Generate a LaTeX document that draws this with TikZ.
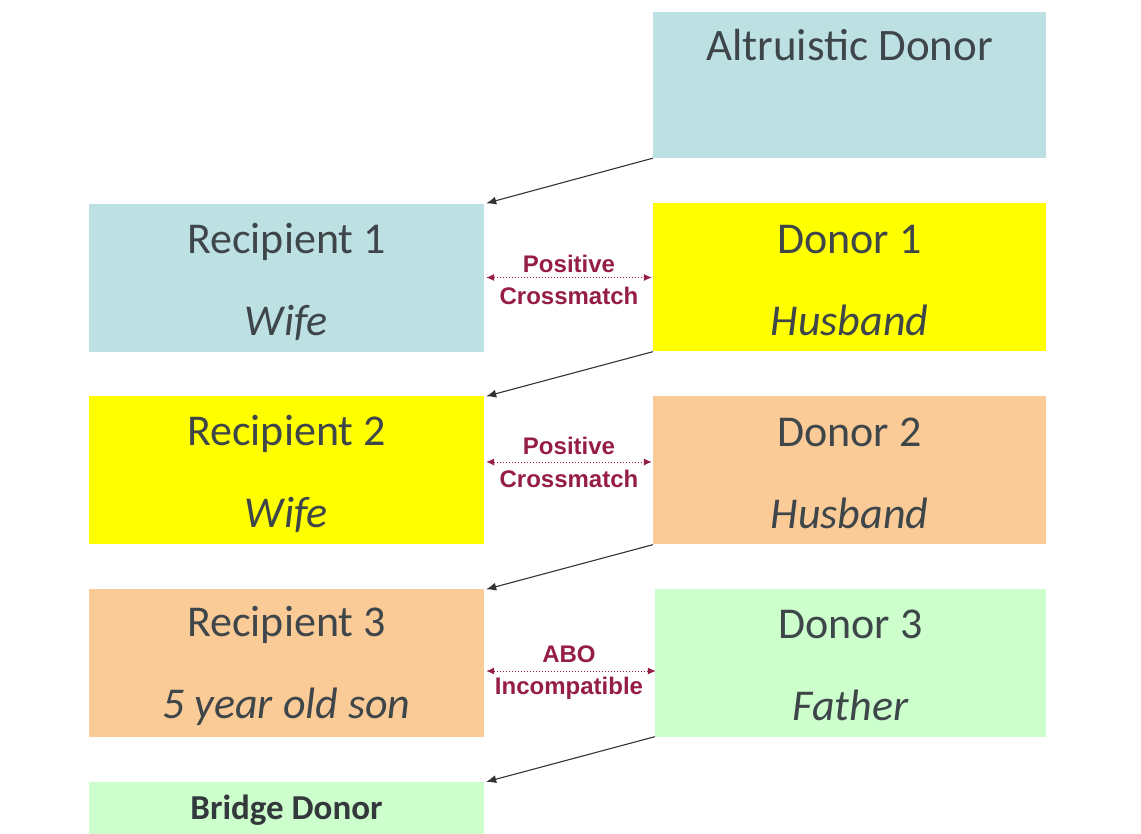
\documentclass[tikz,border=0pt]{standalone}
\usepackage{fontspec}
\setmainfont{Carlito}
\newfontfamily\labelfont{Liberation Sans}
\usetikzlibrary{arrows.meta}
\definecolor{cblue}{RGB}{189,224,227}
\definecolor{cyellow}{RGB}{255,255,0}
\definecolor{corange}{RGB}{251,203,151}
\definecolor{cgreen}{RGB}{204,255,204}
\definecolor{ctext}{RGB}{62,70,74}
\definecolor{clabel}{RGB}{150,30,70}
\tikzset{
  box/.style={rectangle, inner sep=0pt, minimum width=395pt, minimum height=148pt},
  txt/.style={inner sep=0pt, align=center, text=ctext, font=\fontsize{44}{82}\selectfont},
  flow/.style={draw=black!80, line width=1.1pt, -{Latex[length=10pt,width=8pt]}},
  xmatch/.style={draw=clabel, line width=1pt, dotted, {Latex[length=8pt,width=7pt]}-{Latex[length=8pt,width=7pt]}},
  lbl/.style={text=clabel, font=\labelfont\bfseries\fontsize{24}{26}\selectfont, inner sep=0pt},
}
\begin{document}
\begin{tikzpicture}[x=1pt,y=-1pt]
\useasboundingbox (0,0) rectangle (1141,833);
\clip (0,0) rectangle (1141,833);
\fill[white] (0,0) rectangle (1141,833);
% boxes
\node[box, fill=cblue, minimum width=393pt, minimum height=146pt] (alt) at (849.5,85) {};
\node[txt, font=\fontsize{45}{50}\selectfont] (altt) at (849.5,45) {Altruistic Donor};

\node[box, fill=cblue] (r1) at (286.5,277.5) {};
\node[txt] (r1t) at ([yshift=-4pt]r1.center) {Recipient 1\\\itshape Wife};
\node[box, fill=cyellow, minimum width=393pt] (d1) at (849.5,276.5) {};
\node[txt] (d1t) at ([yshift=-4pt]d1.center) {Donor 1\\\itshape Husband};

\node[box, fill=cyellow] (r2) at (286.5,469.5) {};
\node[txt] (r2t) at ([yshift=-4pt]r2.center) {Recipient 2\\\itshape Wife};
\node[box, fill=corange, minimum width=393pt] (d2) at (849.5,469.5) {};
\node[txt] (d2t) at ([yshift=-4pt]d2.center) {Donor 2\\\itshape Husband};

\node[box, fill=corange] (r3) at (286.5,662.5) {};
\node[txt] (r3t) at ([yshift=-3pt]r3.center) {Recipient 3\\\itshape 5 year old son};
\node[box, fill=cgreen, minimum width=391pt] (d3) at (850.5,662.5) {};
\node[txt] (d3t) at ([yshift=-3pt]d3.center) {Donor 3\\\itshape Father};

\node[box, fill=cgreen, minimum height=80pt] (br) at (286.5,822) {};
\node[txt, text=ctext!80!black, font=\bfseries\fontsize{35}{40}\selectfont] (brt) at (286.5,810) {Bridge Donor};

% chain arrows
\draw[flow] (alt.south west) -- ([xshift=2pt]r1.north east);
\draw[flow] ([yshift=-1pt]d1.south west) -- ([xshift=2pt,yshift=-1pt]r2.north east);
\draw[flow] ([yshift=-1pt]d2.south west) -- ([xshift=2pt,yshift=-1pt]r3.north east);
\draw[flow] (d3.south west) -- ([xshift=2pt]br.north east);

% crossmatch arrows
\draw[xmatch] ([xshift=2pt]r1.east) -- ([xshift=-1pt]d1.west |- r1.east);
\node[lbl] (l1a) at (569,264) {Positive};
\node[lbl] (l1b) at (569,296) {Crossmatch};

\draw[xmatch] ([xshift=2pt,yshift=7.5pt]r2.east) -- ([xshift=-1pt,yshift=7.5pt]d2.west);
\node[lbl] (l2a) at (569,446) {Positive};
\node[lbl] (l2b) at (569,479) {Crossmatch};

\draw[xmatch] ([xshift=2pt,yshift=-8.5pt]r3.east) -- ([xshift=1pt,yshift=-8.5pt]d3.west);
\node[lbl] (l3a) at (569,654) {ABO};
\node[lbl] (l3b) at (569,688) {Incompatible};
\end{tikzpicture}
\end{document}
